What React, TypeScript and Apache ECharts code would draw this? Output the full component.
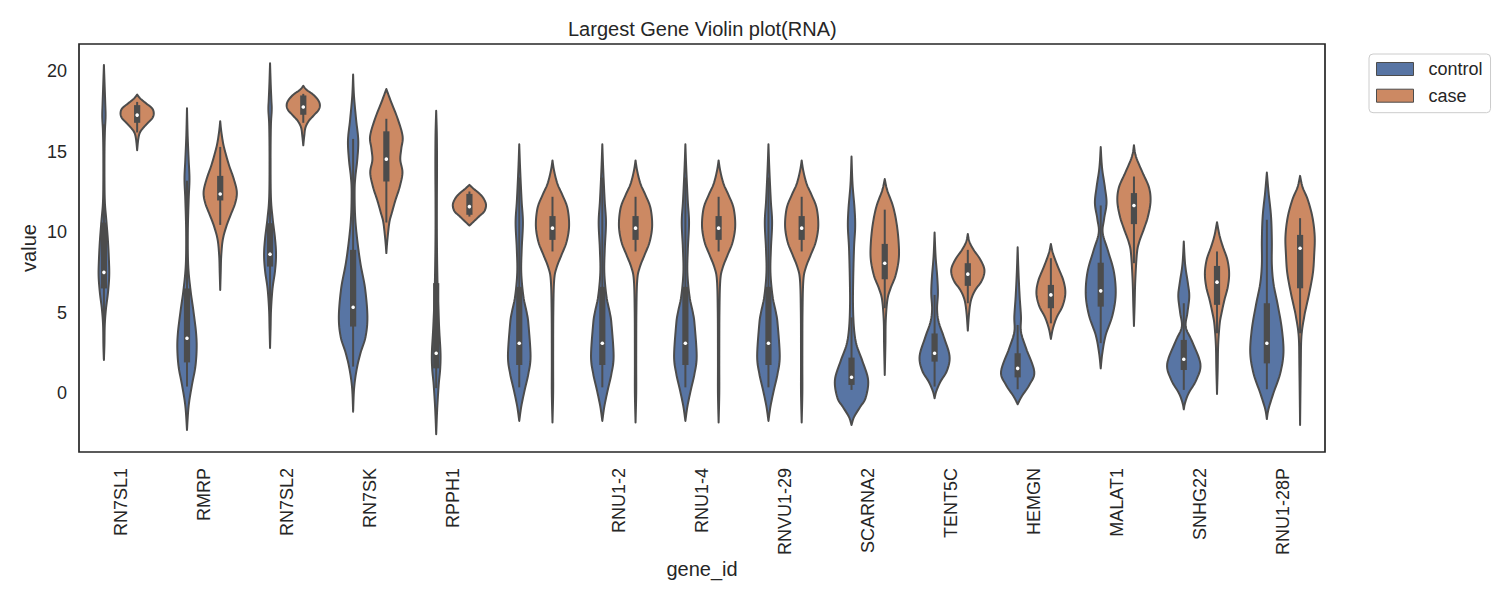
import React, { useEffect, useRef } from "react";
import * as echarts from "echarts";

// ---------------- data ----------------
const categories = [
  "RN7SL1", "RMRP", "RN7SL2", "RN7SK", "RPPH1", "", "RNU1-2", "RNU1-4",
  "RNVU1-29", "SCARNA2", "TENT5C", "HEMGN", "MALAT1", "SNHG22", "RNU1-28P",
];
const hueNames = ["control", "case"];
const hueColors = ["#5875A4", "#CC8963"];
const yTickValues = [0, 5, 10, 15, 20];

// violin profiles: [value, relative half-width (1 = full dodge half-width)]
const RN7SL1_control = [[20.4,0],[19.2,0.04],[18.0,0.08],[17.2,0.1],[16.3,0.06],[15,0.035],[13,0.035],[11.8,0.06],[10.8,0.14],[9.5,0.24],[8.3,0.3],[7.3,0.32],[6.3,0.25],[5.2,0.12],[4.2,0.05],[3,0.03],[2.05,0]];
const RN7SL1_case = [[18.55,0],[18.3,0.2],[18.0,0.55],[17.7,0.9],[17.4,1.0],[17.1,0.92],[16.8,0.65],[16.5,0.38],[16.2,0.17],[15.8,0.07],[15.1,0]];
const RMRP_control = [[17.7,0],[16,0.04],[14.5,0.1],[13.3,0.15],[12,0.1],[10,0.05],[8,0.07],[6.5,0.2],[5,0.4],[3.7,0.55],[2.7,0.58],[1.6,0.5],[0.5,0.3],[-0.8,0.1],[-2.3,0]];
const RMRP_case = [[16.9,0],[16.3,0.06],[15.5,0.18],[14.8,0.35],[14.1,0.55],[13.3,0.82],[12.5,1.0],[11.8,0.9],[11,0.6],[10.3,0.35],[9.5,0.15],[8.5,0.06],[7.5,0.03],[6.4,0]];
const RN7SL2_control = [[20.5,0],[19.2,0.04],[18.2,0.08],[17.6,0.1],[16.6,0.05],[14.5,0.03],[12.2,0.05],[10.9,0.15],[9.6,0.3],[8.6,0.36],[7.6,0.3],[6.5,0.15],[5.2,0.06],[4,0.03],[2.8,0]];
const RN7SL2_case = [[19.1,0],[18.85,0.2],[18.55,0.6],[18.2,0.9],[17.9,1.0],[17.6,0.92],[17.25,0.62],[16.9,0.32],[16.5,0.13],[16.0,0.06],[15.4,0]];
const RN7SK_control = [[19.8,0],[18.5,0.05],[17,0.18],[15.7,0.31],[14.5,0.25],[13.5,0.14],[12.6,0.09],[11,0.12],[9.5,0.25],[8,0.45],[6.5,0.72],[4.75,0.86],[3.5,0.75],[2.5,0.45],[1.5,0.22],[0.3,0.06],[-1.16,0]];
const RN7SK_case = [[18.9,0],[18.2,0.25],[17.0,0.7],[15.95,0.98],[15.2,0.9],[14.5,0.84],[13.7,0.97],[12.8,0.8],[12.0,0.55],[11.2,0.33],[10.6,0.18],[9.5,0.06],[8.7,0]];
const RPPH1_control = [[17.55,0],[16,0.04],[14,0.05],[12,0.04],[10,0.04],[8,0.06],[6,0.1],[4,0.18],[2.5,0.26],[1.5,0.24],[0.5,0.15],[-1,0.06],[-2.57,0]];
const RPPH1_case = [[12.94,0],[12.7,0.25],[12.4,0.6],[12.1,0.85],[11.7,1.0],[11.3,0.9],[11.0,0.6],[10.7,0.3],[10.41,0]];
const RNU_control = [[15.47,0],[14,0.05],[12,0.14],[10.6,0.22],[9,0.15],[7.5,0.12],[6,0.25],[5,0.45],[4.3,0.55],[2.3,0.68],[1.2,0.55],[0.2,0.33],[-0.85,0.12],[-1.74,0]];
const RNU_case = [[14.46,0],[13.8,0.1],[13,0.3],[12.3,0.6],[11.5,0.9],[10.4,1.0],[9.4,0.85],[8.6,0.55],[7.8,0.25],[7,0.1],[5,0.05],[2,0.04],[0,0.04],[-1.83,0]];
const SCARNA2_control = [[14.7,0],[13,0.06],[11.5,0.18],[10.35,0.22],[9,0.15],[7,0.1],[5.4,0.09],[4,0.15],[3,0.3],[2,0.65],[0.8,1.0],[-0.3,0.85],[-0.9,0.5],[-1.5,0.15],[-1.99,0]];
const SCARNA2_case = [[13.3,0],[12.6,0.15],[11.6,0.5],[10.5,0.72],[9.3,0.84],[8.3,0.84],[7.3,0.65],[6.5,0.35],[5.8,0.16],[4.5,0.06],[3,0.04],[1.12,0]];
const TENT5C_control = [[9.98,0],[8.5,0.06],[7.2,0.16],[6.2,0.2],[5.2,0.15],[4.4,0.25],[3.5,0.55],[2.3,0.9],[1.4,0.75],[0.7,0.35],[0.1,0.1],[-0.33,0]];
const TENT5C_case = [[9.89,0],[9.4,0.1],[8.9,0.35],[8.3,0.75],[7.65,1.0],[7.0,0.85],[6.4,0.45],[5.8,0.2],[5.0,0.08],[3.88,0]];
const HEMGN_control = [[9.06,0],[7.5,0.05],[6,0.12],[4.75,0.2],[3.8,0.2],[2.8,0.5],[1.33,1.0],[0.5,0.7],[-0.2,0.25],[-0.7,0]];
const HEMGN_case = [[9.27,0],[8.7,0.12],[7.9,0.4],[7.0,0.75],[6.2,0.87],[5.4,0.7],[4.7,0.35],[4.0,0.12],[3.36,0]];
const MALAT1_control = [[15.29,0],[14,0.08],[12.8,0.25],[11.8,0.35],[10.8,0.2],[9.94,0.12],[8.8,0.45],[7.5,0.8],[6.1,0.9],[4.8,0.7],[3.6,0.3],[2.5,0.1],[1.53,0]];
const MALAT1_case = [[15.41,0],[14.7,0.12],[13.7,0.52],[12.8,0.9],[11.95,1.0],[11.0,0.85],[10.2,0.6],[9.4,0.32],[8.7,0.18],[7,0.08],[5.5,0.04],[4.17,0]];
const SNHG22_control = [[9.42,0],[8,0.08],[6.8,0.25],[6.0,0.33],[5.0,0.22],[4.1,0.12],[3.2,0.5],[1.8,1.0],[0.8,0.75],[0,0.3],[-0.6,0.08],[-1.02,0]];
const SNHG22_case = [[10.62,0],[9.8,0.15],[9.1,0.35],[8.3,0.62],[7.45,0.73],[6.6,0.65],[5.8,0.45],[5.0,0.28],[4.3,0.16],[3.0,0.07],[1.5,0.04],[-0.06,0]];
const RNU1_28P_control = [[13.71,0],[12.5,0.1],[11,0.25],[9.5,0.3],[8,0.3],[6.8,0.4],[5.5,0.65],[4,0.9],[2.5,1.0],[1.2,0.8],[0,0.4],[-1,0.1],[-1.62,0]];
const RNU1_28P_case = [[13.5,0],[12.8,0.15],[12.0,0.47],[10.9,0.75],[9.73,0.88],[8.6,0.85],[7.45,0.77],[6.2,0.55],[5.4,0.38],[4.75,0.25],[3.5,0.08],[1.5,0.04],[-1.99,0]];

const controlProfiles = [
  RN7SL1_control, RMRP_control, RN7SL2_control, RN7SK_control, RPPH1_control,
  RNU_control, RNU_control, RNU_control, RNU_control, SCARNA2_control,
  TENT5C_control, HEMGN_control, MALAT1_control, SNHG22_control, RNU1_28P_control,
];
const caseProfiles = [
  RN7SL1_case, RMRP_case, RN7SL2_case, RN7SK_case, RPPH1_case,
  RNU_case, RNU_case, RNU_case, RNU_case, SCARNA2_case,
  TENT5C_case, HEMGN_case, MALAT1_case, SNHG22_case, RNU1_28P_case,
];

// inner box stats: [whiskerLow, q1, median, q3, whiskerHigh]
const controlBoxes = [
  [2.1, 6.5, 7.5, 10.6, 16.7],
  [0.4, 1.9, 3.4, 6.5, 13.2],
  [3.9, 7.86, 8.63, 10.56, 14.6],
  [1.64, 4.13, 5.33, 8.9, 15.8],
  [0.3, 1.53, 2.47, 6.83, 14.8],
  [0.35, 1.74, 3.09, 6.6, 13.4],
  [0.35, 1.74, 3.09, 6.6, 13.4],
  [0.35, 1.74, 3.09, 6.6, 13.4],
  [0.35, 1.74, 3.09, 6.6, 13.4],
  [0.19, 0.5, 0.98, 2.2, 4.7],
  [0.4, 1.95, 2.47, 3.7, 6.1],
  [0.23, 0.97, 1.53, 2.47, 4.23],
  [3.1, 5.37, 6.35, 8.1, 11.66],
  [0.19, 1.43, 2.1, 3.3, 5.58],
  [0.23, 1.84, 3.09, 5.58, 10.77],
];
const caseBoxes = [
  [16.2, 16.8, 17.28, 17.9, 18.1],
  [10.45, 11.97, 12.37, 13.5, 15.3],
  [16.8, 17.3, 17.78, 18.5, 18.6],
  [10.6, 13.15, 14.54, 16.27, 17.05],
  [10.97, 11.08, 11.59, 12.38, 12.53],
  [8.8, 9.52, 10.25, 11.0, 12.2],
  [8.8, 9.52, 10.25, 11.0, 12.2],
  [8.8, 9.52, 10.25, 11.0, 12.2],
  [8.8, 9.52, 10.25, 11.0, 12.2],
  [5.27, 7.07, 8.07, 9.27, 11.4],
  [5.58, 6.66, 7.39, 8.07, 8.9],
  [4.33, 5.27, 6.1, 6.72, 8.38],
  [8.07, 10.5, 11.66, 12.43, 13.46],
  [3.71, 5.48, 6.89, 7.9, 8.8],
  [3.71, 6.51, 9.0, 9.83, 10.87],
];

// ---------------- rendering helpers ----------------
const GRAY = "#4c4c4c";
const TEXT = "#262626";
const FONT = "'Liberation Sans', Arial, Helvetica, sans-serif";

function smoothProfile(p: number[][]): number[][] {
  const out: number[][] = [];
  const n = p.length;
  const steps = 8;
  for (let i = 0; i < n - 1; i++) {
    const p0 = p[Math.max(i - 1, 0)];
    const p1 = p[i];
    const p2 = p[i + 1];
    const p3 = p[Math.min(i + 2, n - 1)];
    for (let s = 0; s < steps; s++) {
      const t = s / steps;
      const t2 = t * t;
      const t3 = t2 * t;
      const f = (a: number, b: number, c: number, d: number) =>
        0.5 * (2 * b + (-a + c) * t + (2 * a - 5 * b + 4 * c - d) * t2 + (-a + 3 * b - 3 * c + d) * t3);
      out.push([f(p0[0], p1[0], p2[0], p3[0]), Math.max(0, f(p0[1], p1[1], p2[1], p3[1]))]);
    }
  }
  out.push(p[n - 1]);
  return out;
}

function makeRenderItem(profiles: number[][][], boxes: number[][], side: number, color: string) {
  return (params: any, api: any) => {
    const i = params.dataIndex;
    const cat = api.value(0);
    const band = api.size([1, 0])[0];
    const half = 0.2 * band;
    const cx = api.coord([cat, 0])[0] + side * half;
    const yOf = (v: number) => api.coord([cat, v])[1];
    const pts = smoothProfile(profiles[i]);
    const right = pts.map(([v, w]) => [cx + w * half, yOf(v)]);
    const left = pts.slice().reverse().map(([v, w]) => [cx - w * half, yOf(v)]);
    const [lo, q1, med, q3, hi] = boxes[i];
    return {
      type: "group",
      children: [
        {
          type: "polygon",
          shape: { points: right.concat(left) },
          style: { fill: color, stroke: GRAY, lineWidth: 2, lineJoin: "round" },
        },
        {
          type: "line",
          shape: { x1: cx, y1: yOf(hi), x2: cx, y2: yOf(lo) },
          style: { stroke: GRAY, lineWidth: 2 },
        },
        {
          type: "rect",
          shape: { x: cx - 3.1, y: yOf(q3), width: 6.2, height: yOf(q1) - yOf(q3) },
          style: { fill: GRAY },
        },
        {
          type: "circle",
          shape: { cx: cx, cy: yOf(med), r: 1.8 },
          style: { fill: "#ffffff" },
        },
      ],
    };
  };
}

export default function App() {
  const ref = useRef<HTMLDivElement>(null);
  useEffect(() => {
    document.body.style.margin = "0";
    if (!ref.current) return;
    const chart = echarts.init(ref.current, undefined, { renderer: "svg" });
    const option: any = {
      animation: false,
      backgroundColor: "#ffffff",
      color: hueColors,
      textStyle: { fontFamily: FONT, color: TEXT },
      title: {
        text: "Largest Gene Violin plot(RNA)",
        left: 568,
        top: 19,
        padding: 0,
        textStyle: { fontSize: 20, fontWeight: "normal", color: TEXT, fontFamily: FONT },
      },
      legend: {
        data: hueNames,
        orient: "vertical",
        left: 1369,
        top: 54,
        padding: [5, 8, 7, 7],
        itemWidth: 37,
        itemHeight: 13,
        itemGap: 6.7,
        icon: "rect",
        backgroundColor: "#ffffff",
        borderColor: "#cccccc",
        borderWidth: 1,
        borderRadius: 4,
        itemStyle: { borderColor: GRAY, borderWidth: 1 },
        textStyle: { fontSize: 18, color: TEXT, fontFamily: FONT, lineHeight: 20, padding: [0, 0, 0, 10] },
      },
      grid: {
        left: 79,
        right: 175,
        top: 44,
        bottom: 148,
        show: true,
        borderColor: TEXT,
        borderWidth: 1.7,
        backgroundColor: "transparent",
        containLabel: false,
      },
      xAxis: {
        type: "category",
        data: categories,
        name: "gene_id",
        nameLocation: "middle",
        nameGap: 107,
        nameMoveOverlap: false,
        nameTextStyle: { fontSize: 20, color: TEXT, fontFamily: FONT },
        axisLine: { show: false },
        axisTick: { show: false },
        splitLine: { show: false },
        axisLabel: { rotate: 90, interval: 0, fontSize: 18, color: TEXT, margin: 16, fontFamily: FONT },
      },
      yAxis: {
        type: "value",
        min: -3.67,
        max: 21.7,
        name: "value",
        nameLocation: "middle",
        nameGap: 40,
        nameMoveOverlap: false,
        nameTextStyle: { fontSize: 20, color: TEXT, fontFamily: FONT },
        axisLine: { show: false },
        axisTick: { show: false },
        splitLine: { show: false },
        axisLabel: {
          customValues: yTickValues,
          fontSize: 18,
          color: TEXT,
          margin: 12,
          fontFamily: FONT,
        },
      },
      series: [
        {
          name: hueNames[0],
          type: "custom",
          itemStyle: { color: hueColors[0] },
          encode: { x: 0, y: 1 },
          data: categories.map((_, i) => [i, controlBoxes[i][2]]),
          renderItem: makeRenderItem(controlProfiles, controlBoxes, -1, hueColors[0]),
        },
        {
          name: hueNames[1],
          type: "custom",
          itemStyle: { color: hueColors[1] },
          encode: { x: 0, y: 1 },
          data: categories.map((_, i) => [i, caseBoxes[i][2]]),
          renderItem: makeRenderItem(caseProfiles, caseBoxes, 1, hueColors[1]),
        },
      ],
    };
    chart.setOption(option);
    return () => chart.dispose();
  }, []);
  return (
    <div
      ref={ref}
      style={{ position: "fixed", left: 0, top: 0, width: 1500, height: 600 }}
    />
  );
}
